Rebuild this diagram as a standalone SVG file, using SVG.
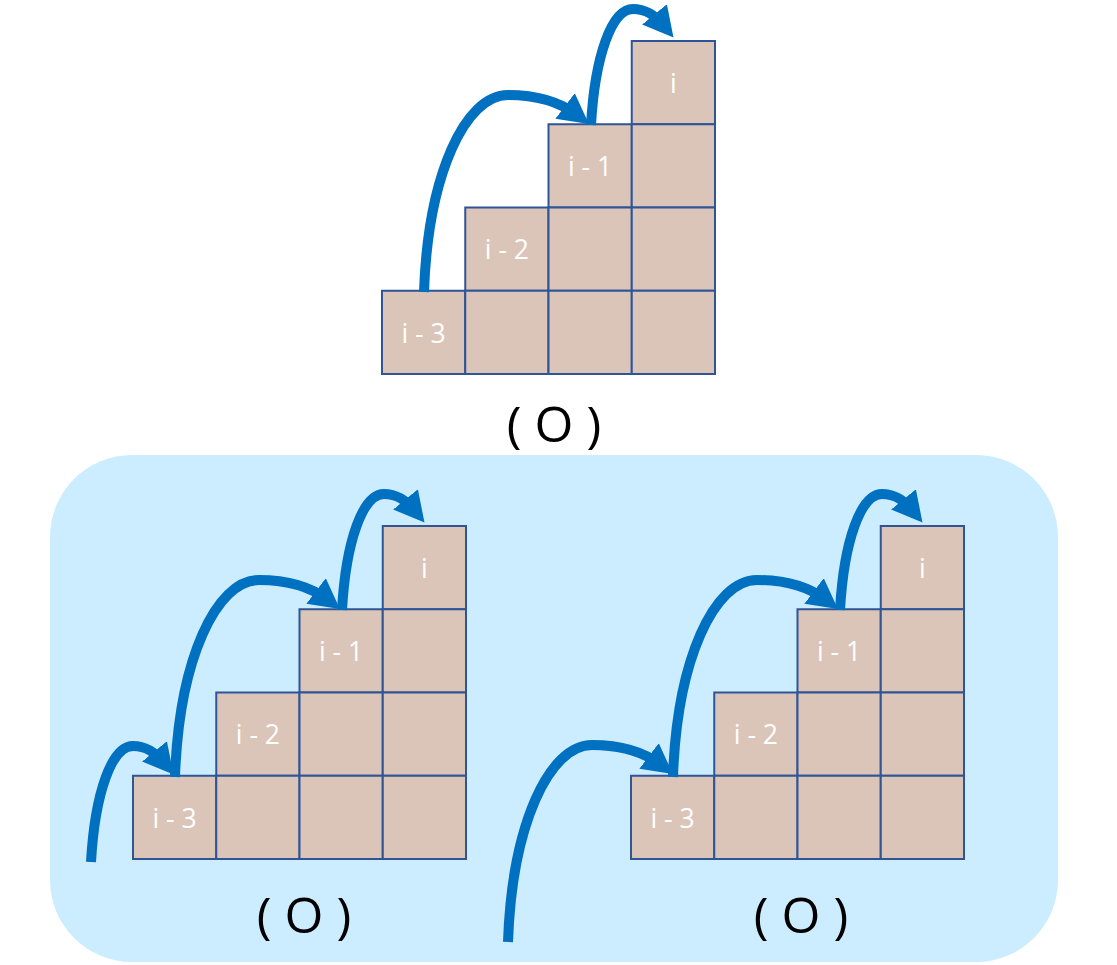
<svg xmlns="http://www.w3.org/2000/svg" width="1117" height="965" viewBox="0 0 1117 965">
<style>
.cell{fill:#DBC5B8;stroke:#2F5597;stroke-width:2}
.lbl{fill:#FFFFFF;font-family:"Open Sans","Noto Sans",sans-serif;font-size:26.5px;text-anchor:middle}
.cap{fill:#000000;font-family:"Open Sans","Noto Sans",sans-serif;font-size:50px;text-anchor:middle}
.arr{fill:none;stroke:#0070C0;stroke-width:10;marker-end:url(#ah)}
</style>
<defs>
<marker id="ah" viewBox="0 0 30 32" refX="15" refY="16" markerWidth="30" markerHeight="32" markerUnits="userSpaceOnUse" orient="auto">
<path d="M0,0 L30,16 L0,32 z" fill="#0070C0"/>
</marker>
</defs>
<rect id="panel" x="50" y="455" width="1008" height="507" rx="82" ry="82" fill="#CCECFF"/>
<g id="stairs-top" transform="translate(382,41)">
<rect class="cell" x="249.75" y="0" width="83.25" height="83.25"/>
<rect class="cell" x="166.5" y="83.25" width="83.25" height="83.25"/>
<rect class="cell" x="249.75" y="83.25" width="83.25" height="83.25"/>
<rect class="cell" x="83.25" y="166.5" width="83.25" height="83.25"/>
<rect class="cell" x="166.5" y="166.5" width="83.25" height="83.25"/>
<rect class="cell" x="249.75" y="166.5" width="83.25" height="83.25"/>
<rect class="cell" x="0" y="249.75" width="83.25" height="83.25"/>
<rect class="cell" x="83.25" y="249.75" width="83.25" height="83.25"/>
<rect class="cell" x="166.5" y="249.75" width="83.25" height="83.25"/>
<rect class="cell" x="249.75" y="249.75" width="83.25" height="83.25"/>
<text class="lbl" x="291.4" y="51.8">i</text>
<text class="lbl" x="208.1" y="135.1">i - 1</text>
<text class="lbl" x="124.9" y="218.3">i - 2</text>
<text class="lbl" x="41.6" y="301.6">i - 3</text>
</g>
<g id="stairs-left" transform="translate(133,526)">
<rect class="cell" x="249.75" y="0" width="83.25" height="83.25"/>
<rect class="cell" x="166.5" y="83.25" width="83.25" height="83.25"/>
<rect class="cell" x="249.75" y="83.25" width="83.25" height="83.25"/>
<rect class="cell" x="83.25" y="166.5" width="83.25" height="83.25"/>
<rect class="cell" x="166.5" y="166.5" width="83.25" height="83.25"/>
<rect class="cell" x="249.75" y="166.5" width="83.25" height="83.25"/>
<rect class="cell" x="0" y="249.75" width="83.25" height="83.25"/>
<rect class="cell" x="83.25" y="249.75" width="83.25" height="83.25"/>
<rect class="cell" x="166.5" y="249.75" width="83.25" height="83.25"/>
<rect class="cell" x="249.75" y="249.75" width="83.25" height="83.25"/>
<text class="lbl" x="291.4" y="51.8">i</text>
<text class="lbl" x="208.1" y="135.1">i - 1</text>
<text class="lbl" x="124.9" y="218.3">i - 2</text>
<text class="lbl" x="41.6" y="301.6">i - 3</text>
</g>
<g id="stairs-right" transform="translate(631,526)">
<rect class="cell" x="249.75" y="0" width="83.25" height="83.25"/>
<rect class="cell" x="166.5" y="83.25" width="83.25" height="83.25"/>
<rect class="cell" x="249.75" y="83.25" width="83.25" height="83.25"/>
<rect class="cell" x="83.25" y="166.5" width="83.25" height="83.25"/>
<rect class="cell" x="166.5" y="166.5" width="83.25" height="83.25"/>
<rect class="cell" x="249.75" y="166.5" width="83.25" height="83.25"/>
<rect class="cell" x="0" y="249.75" width="83.25" height="83.25"/>
<rect class="cell" x="83.25" y="249.75" width="83.25" height="83.25"/>
<rect class="cell" x="166.5" y="249.75" width="83.25" height="83.25"/>
<rect class="cell" x="249.75" y="249.75" width="83.25" height="83.25"/>
<text class="lbl" x="291.4" y="51.8">i</text>
<text class="lbl" x="208.1" y="135.1">i - 1</text>
<text class="lbl" x="124.9" y="218.3">i - 2</text>
<text class="lbl" x="41.6" y="301.6">i - 3</text>
</g>
<g id="captions">
<text class="cap" x="554" y="442">( O )</text>
<text class="cap" x="304" y="933">( O )</text>
<text class="cap" x="801" y="933">( O )</text>
</g>
<g id="connectors">
<path class="arr" d="M424,292 C428,175 465,95 508,95 C532,95 556,99 577,115"/>
<path class="arr" d="M591,125 C595,55 612,9 633,9 C646,9 655,15 664,26"/>
<g transform="translate(-249,485)">
<path class="arr" d="M424,292 C428,175 465,95 508,95 C532,95 556,99 577,115"/>
<path class="arr" d="M591,125 C595,55 612,9 633,9 C646,9 655,15 664,26"/>
</g>
<path class="arr" transform="translate(-500,737)" d="M591,125 C595,55 612,9 633,9 C646,9 655,15 664,26"/>
<g transform="translate(249,485)">
<path class="arr" d="M424,292 C428,175 465,95 508,95 C532,95 556,99 577,115"/>
<path class="arr" d="M591,125 C595,55 612,9 633,9 C646,9 655,15 664,26"/>
</g>
<path class="arr" transform="translate(84,650)" d="M424,292 C428,175 465,95 508,95 C532,95 556,99 577,115"/>
</g>
</svg>
